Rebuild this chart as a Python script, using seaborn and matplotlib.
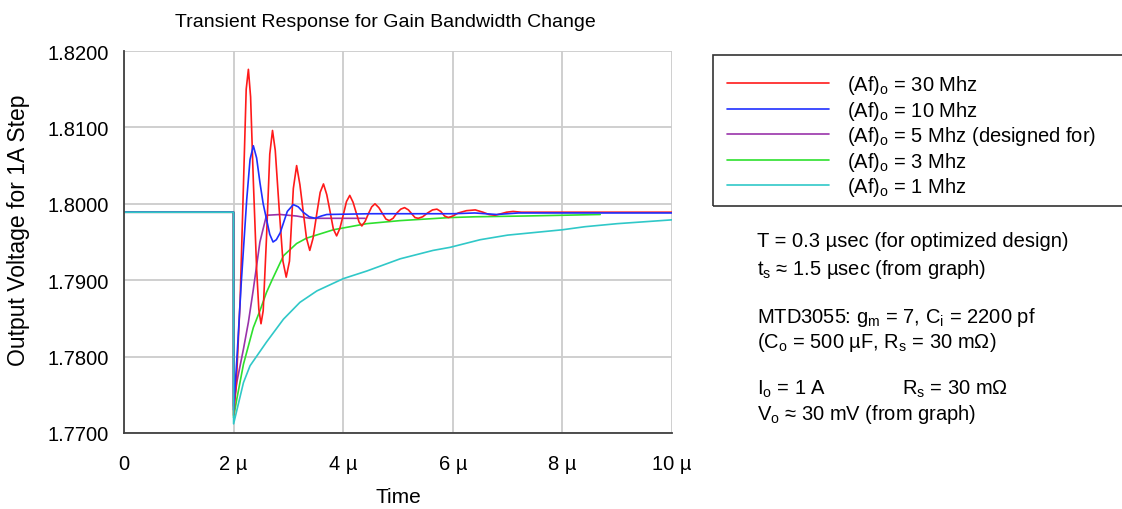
import matplotlib
matplotlib.use("Agg")
from matplotlib import pyplot as plt
from matplotlib.patches import Rectangle
import seaborn as sns

# time in microseconds, output voltage in volts
t_30 = [0, 1.999, 2.0, 2.05, 2.12, 2.19, 2.23, 2.27, 2.31, 2.36, 2.42, 2.46, 2.50, 2.54,
        2.60, 2.66, 2.71, 2.76, 2.83, 2.90, 2.96, 3.02, 3.09, 3.15, 3.21, 3.27, 3.33,
        3.39, 3.45, 3.52, 3.58, 3.64, 3.70, 3.76, 3.82, 3.88, 3.94, 4.0, 4.06, 4.12,
        4.18, 4.23, 4.29, 4.34, 4.40, 4.46, 4.52, 4.58, 4.65, 4.71, 4.78, 4.84, 4.91,
        4.98, 5.05, 5.12, 5.19, 5.25, 5.31, 5.37, 5.45, 5.54, 5.63, 5.71, 5.78, 5.85,
        5.92, 6.0, 6.1, 6.25, 6.41, 6.55, 6.66, 6.77, 6.88, 6.98, 7.1, 7.25, 10.0]
v_30 = [1.7989, 1.7989, 1.7723, 1.7765, 1.7875, 1.8050, 1.8150, 1.8176, 1.8140, 1.8030,
        1.7915, 1.7862, 1.7843, 1.7860, 1.7955, 1.8065, 1.8096, 1.8070, 1.7995, 1.7925,
        1.7904, 1.7925, 1.8020, 1.8050, 1.8025, 1.7990, 1.7955, 1.7939, 1.7955, 1.7988,
        1.8015, 1.8026, 1.8012, 1.7990, 1.7967, 1.7958, 1.7968, 1.7985, 1.8003, 1.8011,
        1.8002, 1.7990, 1.7976, 1.7971, 1.7977, 1.7987, 1.7996, 1.8000, 1.7995, 1.7988,
        1.7980, 1.7978, 1.7981, 1.7988, 1.7993, 1.7995, 1.7992, 1.7987, 1.7982, 1.7981,
        1.7983, 1.7988, 1.7992, 1.7993, 1.7990, 1.7984, 1.7982, 1.7984, 1.7988, 1.7991,
        1.7992, 1.7989, 1.7986, 1.7985, 1.7987, 1.7989, 1.7990, 1.7989, 1.7989]

t_10 = [0, 1.999, 2.0, 2.06, 2.14, 2.24, 2.30, 2.36, 2.42, 2.48, 2.54, 2.60, 2.66, 2.72,
        2.78, 2.85, 2.91, 2.98, 3.09, 3.18, 3.27, 3.38, 3.49, 3.60, 3.70, 4.5, 6.0, 6.4,
        6.8, 7.2, 8.0, 10.0]
v_10 = [1.7989, 1.7989, 1.7730, 1.7797, 1.7897, 1.8006, 1.8058, 1.8076, 1.8060, 1.8028,
        1.8000, 1.7980, 1.7960, 1.7950, 1.7953, 1.7962, 1.7975, 1.7990, 1.7999, 1.7996,
        1.7989, 1.7983, 1.7981, 1.7984, 1.7986, 1.7987, 1.7987, 1.7988, 1.7986, 1.7988,
        1.7988, 1.7988]

t_5 = [0, 1.999, 2.0, 2.06, 2.18, 2.27, 2.36, 2.48, 2.60, 2.85, 3.15, 3.39, 4.4]
v_5 = [1.7989, 1.7989, 1.7735, 1.7767, 1.7810, 1.7845, 1.7888, 1.7950, 1.7985, 1.7986,
       1.7984, 1.7981, 1.7981]

t_3 = [0, 1.999, 2.0, 2.06, 2.18, 2.36, 2.48, 2.60, 2.70, 2.91, 3.15, 3.33, 3.82, 4.43,
       5.04, 5.95, 6.4, 7.3, 8.0, 8.69]
v_3 = [1.7989, 1.7989, 1.7720, 1.7745, 1.7790, 1.7838, 1.7860, 1.7884, 1.7900, 1.7932,
       1.7948, 1.7955, 1.7966, 1.7974, 1.7978, 1.7982, 1.7983, 1.7984, 1.7985, 1.7986]

t_1 = [0, 1.999, 2.0, 2.18, 2.30, 2.60, 2.91, 3.21, 3.52, 4.0, 4.43, 5.04, 5.64, 5.95,
       6.5, 7.0, 8.0, 8.41, 9.0, 10.0]
v_1 = [1.7989, 1.7989, 1.7712, 1.7766, 1.7788, 1.7819, 1.7849, 1.7871, 1.7886, 1.7902,
       1.7912, 1.7928, 1.7939, 1.7943, 1.7953, 1.7959, 1.7966, 1.7970, 1.7974, 1.7979]

labels = [r"(Af)$_\mathregular{o}$ = 30 Mhz",
          r"(Af)$_\mathregular{o}$ = 10 Mhz",
          r"(Af)$_\mathregular{o}$ = 5 Mhz (designed for)",
          r"(Af)$_\mathregular{o}$ = 3 Mhz",
          r"(Af)$_\mathregular{o}$ = 1 Mhz"]
colors = ["#ff1a1a", "#1f2fff", "#9933aa", "#2ee02e", "#30c8c8"]

x_ticks = [0, 2, 4, 6, 8, 10]
x_ticklabels = ["0", "2 µ", "4 µ", "6 µ", "8 µ", "10 µ"]
y_ticks = [1.77, 1.78, 1.79, 1.80, 1.81, 1.82]

sns.set_style("white")
plt.rcParams['font.family'] = ['Liberation Sans', 'DejaVu Sans']
plt.rcParams['mathtext.fontset'] = 'custom'
plt.rcParams['mathtext.rm'] = 'Liberation Sans'
plt.rcParams['text.color'] = 'black'
plt.rcParams['axes.labelcolor'] = 'black'

fig = plt.figure(figsize=(11.22, 5.10), dpi=100)
ax = fig.add_axes([124 / 1122, 1 - 434 / 510, 548 / 1122, 382 / 510])

series = [(t_30, v_30), (t_10, v_10), (t_5, v_5), (t_3, v_3), (t_1, v_1)]
order = [2, 3, 0, 1, 4]   # draw order so overlaps look like the original
handles = [None] * 5
for i in order:
    t, v = series[i]
    sns.lineplot(x=t, y=v, ax=ax, color=colors[i], linewidth=1.2,
                 estimator=None, sort=False)
    handles[i] = ax.lines[-1]

ax.set_xlim(0, 10)
ax.set_ylim(1.77, 1.82)
ax.set_xticks(x_ticks)
ax.set_xticklabels(x_ticklabels)
ax.set_yticks(y_ticks)
ax.set_yticklabels([f"{y:.4f}" for y in y_ticks])
ax.grid(True, color="#cccccc", linewidth=1.3)
ax.set_axisbelow(True)
for s in ["top", "right"]:
    ax.spines[s].set_visible(False)
for s in ["left", "bottom"]:
    ax.spines[s].set_color("#404040")
    ax.spines[s].set_linewidth(1.3)
ax.tick_params(direction="inout", length=8, width=1.2, color="#404040",
               labelsize=14.5, labelcolor="black")
ax.tick_params(axis="x", pad=11)
ax.tick_params(axis="y", pad=7)
ax.set_xlabel("Time", fontsize=15, labelpad=10)
ax.set_ylabel("Output Voltage for 1A Step", fontsize=16.5)
ax.yaxis.set_label_coords(-0.172, 0.534)
ax.set_title("Transient Response for Gain Bandwidth Change", fontsize=14,
             pad=18, x=0.477)

# legend box, open on the right edge like the original
fig.add_artist(Rectangle((713 / 1122, 1 - 207 / 510), 420 / 1122, 151 / 510,
                         transform=fig.transFigure, fill=False,
                         edgecolor="#333333", linewidth=1.2))
fig.legend(handles, labels, loc="upper left",
           bbox_to_anchor=(727 / 1122, 1 - 74 / 510),
           fontsize=14.5, frameon=False,
           handlelength=5.07, handletextpad=0.9, labelspacing=0.13,
           borderpad=0, borderaxespad=0)

notes = [
    (757, 247, "T = 0.3 µsec (for optimized design)"),
    (757, 275, r"t$_\mathregular{s}$ ≈ 1.5 µsec (from graph)"),
    (757, 323, r"MTD3055: g$_\mathregular{m}$ = 7, C$_\mathregular{i}$ = 2200 pf"),
    (757, 348, r"(C$_\mathregular{o}$ = 500 µF, R$_\mathregular{s}$ = 30 mΩ)"),
    (757, 395, r"I$_\mathregular{o}$ = 1 A"),
    (902, 395, r"R$_\mathregular{s}$ = 30 mΩ"),
    (757, 420, r"V$_\mathregular{o}$ ≈ 30 mV (from graph)"),
]
for x, y, s in notes:
    fig.text(x / 1122, 1 - y / 510, s, fontsize=14.5, va="baseline", ha="left")

fig.savefig("out.png", dpi=100)
